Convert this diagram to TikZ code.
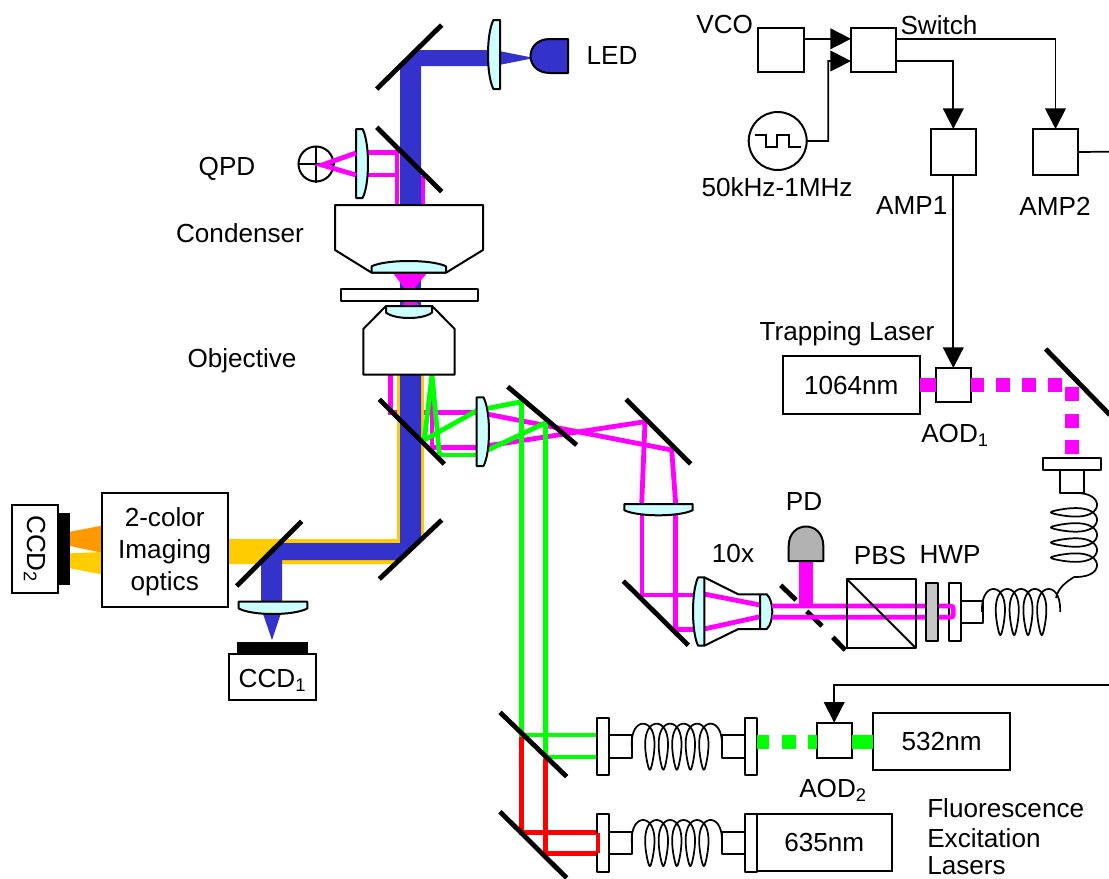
\documentclass[tikz,border=0pt]{standalone}
\usepackage{fontspec}
\setmainfont{Liberation Sans}
\usepackage{xcolor}
\usepackage{tikz}
\usetikzlibrary{arrows.meta,positioning,calc}
\definecolor{beamblue}{HTML}{3333CC}
\definecolor{beampink}{HTML}{FF00FF}
\definecolor{beamgreen}{HTML}{00FF00}
\definecolor{beamyellow}{HTML}{FFCC00}
\definecolor{beamorange}{HTML}{FF9900}
\definecolor{lensfill}{HTML}{CCFFFF}
\def\px{0.75pt}
% lens with its flat side at #1 and its bulge at #2, between #3 and #4
\newcommand{\lensv}[4]{\draw[optic, fill=lensfill] (#1,#3) -- ({#1+0.55*(#2-#1)},#3) .. controls ({#1+1.15*(#2-#1)},{#3+0.2*(#4-#3)}) and ({#1+1.15*(#2-#1)},{#3+0.8*(#4-#3)}) .. ({#1+0.55*(#2-#1)},#4) -- (#1,#4) -- cycle;}
\newcommand{\lensh}[4]{\draw[optic, fill=lensfill] (#3,#1) -- (#3,{#1+0.55*(#2-#1)}) .. controls ({#3+0.2*(#4-#3)},{#1+1.15*(#2-#1)}) and ({#3+0.8*(#4-#3)},{#1+1.15*(#2-#1)}) .. (#4,{#1+0.55*(#2-#1)}) -- (#4,#1) -- cycle;}
% fibre coils
\newcommand{\coilh}[4]{\pgfmathsetmacro\coilend{360*#4+90}\draw[fiber] plot[domain=-90:\coilend, samples=300] ({#1+8+#3*((\x+90)/360)+8*sin(\x)+1.5*sin(2*\x)},{#2-23*cos(\x)});}
\newcommand{\coilv}[4]{\pgfmathsetmacro\coilend{360*#4+90}\draw[fiber] plot[domain=-90:\coilend, samples=300] ({#2+23*cos(\x)},{#1+8+#3*((\x+90)/360)+8*sin(\x)+1.5*sin(2*\x)});}

\begin{document}
\begin{tikzpicture}[
    x=\px, y=-\px,
    box/.style={draw, fill=white, line width=1.5pt, inner sep=0pt, outer sep=0pt, align=center, font=\fontsize{19.6}{24}\selectfont},
    lab/.style={inner sep=0pt, align=center, font=\fontsize{19.6}{24}\selectfont},
    optic/.style={draw, line width=1.5pt, line join=round},
    mirror/.style={line width=3.6pt},
    thin beam/.style={line width=3.6pt, line join=miter},
    fiber/.style={line width=1.3pt, line join=round},
    wire/.style={line width=1.3pt},
    flow/.style={wire, -{Triangle[length=15.5pt, width=15.5pt]}}
]
\clip (0,0) rectangle (1109,878);

% pink beams, under everything else
\draw[thin beam, beampink] (356,152.7) -- (397,152.7) -- (397,205);
\draw[thin beam, beampink] (356,175) -- (397,175);
\draw[thin beam, beampink] (423,176) -- (423,205);
\draw[thin beam, beampink] (390.7,375) -- (390.7,412.7) -- (478,412.7);
\draw[thin beam, beampink] (432,375) -- (432,447.7) -- (478,447.7);
\draw[thin beam, beampink] (488,414.3) -- (671.7,450) -- (675.7,504);
\draw[thin beam, beampink] (488,445.7) -- (645,421.7) -- (641.7,504);
\draw[thin beam, beampink] (642,515) -- (642,595) -- (694,595);
\draw[thin beam, beampink] (675.7,515) -- (675.7,629.3) -- (694,629.3);
\fill[beamyellow] (397,375) -- (424,375) -- (424,536) -- (396,564) -- (228,564) -- (228,539) -- (397,539) -- cycle;
\fill[beamblue] (400,375) -- (421,375) -- (421,539) -- (400,560) -- (282,560) -- (282,602) -- (261,602) -- (261,562) -- (280,543) -- (400,543) -- cycle;
\fill[beamblue] (400,205) -- (400,66) -- (416,50) -- (490,50) -- (490,66) -- (421,66) -- (421,205) -- cycle;
\fill[beamblue] (499,51) -- (534,58) -- (499,65) -- cycle;
\fill[beamblue] (400,272) rectangle (421,307);
\fill[beampink] (393,273) -- (427,273) -- (414,289) -- (405,289) -- cycle;
\fill[beampink] (407,300) -- (414,300) -- (421,307) -- (400,307) -- cycle;
\fill[beamblue] (262.7,613) -- (281,613) -- (272,640) -- cycle;
\fill[beamorange] (70,531.7) -- (101.7,525.7) -- (101.7,552.7) -- (70,546) -- cycle;
\fill[beamyellow] (70,553.3) -- (101.7,552) -- (101.7,574.3) -- (70,568.3) -- cycle;

% green and red beams
\draw[thin beam, beamgreen] (424.3,440) -- (432,375) -- (439.3,454);
\draw[thin beam, beamgreen] (478,410) -- (424.3,440);
\draw[thin beam, beamgreen] (439.3,455) -- (478,455);
\draw[thin beam, beamgreen] (488,408.3) -- (521.7,401.7);
\draw[thin beam, beamgreen] (488,450) -- (545.7,422.7);
\draw[thin beam, red] (521.7,735) -- (521.7,832.7) -- (598,832.7) -- (598,853.3) -- (545.7,853.3) -- (545.7,757);
\draw[thin beam, beamgreen] (521.7,401.7) -- (521.7,735) -- (598,735);
\draw[thin beam, beamgreen] (545.7,422.7) -- (545.7,757) -- (598,757);

% mirrors
\draw[mirror] (376.7,89) -- (441.7,25);
\draw[mirror] (376.7,127.3) -- (441.7,191.7);
\draw[mirror] (379.3,399.3) -- (444.3,464);
\draw[mirror] (507.7,386.7) -- (576.7,445);
\draw[mirror] (626,399.3) -- (690.7,464);
\draw[mirror] (379.3,579) -- (441.7,520);
\draw[mirror] (236.7,586) -- (301.7,521.3);
\draw[mirror] (623.3,581) -- (688.3,645.3);
\draw[mirror] (500,712.3) -- (566.7,776.7);
\draw[mirror] (500,811.7) -- (566.7,878);
\draw[mirror] (1045.7,349) -- (1110,415);
\draw[mirror] (780.7,585.3) -- (796,600);
\draw[mirror] (806.7,611.3) -- (822,626);
\draw[mirror] (832.7,637.3) -- (845.3,650);

% condenser, slide, objective
\draw[optic, fill=white] (335,205) -- (483,205) -- (483,250) -- (446,272.7) -- (371.7,272.7) -- (335,250) -- cycle;
\draw[optic, fill=white] (363.3,374.7) -- (454.7,374.7) -- (454.7,329) -- (432,306) -- (386,306) -- (363.3,329) -- cycle;
\draw[optic, fill=white] (341,289.3) rectangle (477.7,301);
\lensh{272.7}{261}{371.7}{446}
\lensh{306}{318}{386}{432}

% lenses
\lensv{500}{488}{20}{89}
\lensv{356}{368}{129}{198}
\lensv{476.7}{489}{397.3}{466}
\lensh{504}{515.3}{624.3}{692.7}
\lensh{601.7}{614}{238.7}{307.3}

% LED, QPD, PD
\draw[optic, fill=beamblue] (568,39) -- (550,39) .. controls (524,39) and (524,73) .. (550,73) -- (568,73) -- cycle;
\node[draw, circle, fill=white, line width=1.5pt, minimum size=35*\px, inner sep=0pt] (qpd) at (316,164) {};
\draw[line width=1.5pt] (qpd.north) -- (qpd.south);
\draw[line width=1.5pt] (qpd.west) -- (qpd.east);
\draw[thin beam, beampink] (356,153) -- (322,165) -- (356,175);
\fill[beampink] (799.3,561) rectangle (812.7,606);
\draw[optic, fill=gray!60] (788.7,561) -- (788.7,546) .. controls (788.7,520) and (823.3,520) .. (823.3,546) -- (823.3,561) -- cycle;

% telescope
\draw[optic] (704.3,577.3) -- (738.3,594.3) -- (760,594.3);
\draw[optic] (704.3,645.7) -- (738.3,629) -- (760,629);
\draw[thin beam, beampink] (704,594) -- (760,605);
\draw[thin beam, beampink] (704,629) -- (760,616.7);
\lensv{704.3}{693}{577.3}{645.7}
\lensv{760}{772.3}{594.3}{629}

% coupler of the trapping fibre
\draw[optic, fill=white] (949,583.3) rectangle (960.7,640.7);
\draw[optic, fill=white] (960.7,600.7) rectangle (982.7,623.3);
\draw[thin beam, beampink, rounded corners=2pt] (772,606) -- (953.3,606) -- (953.3,617.3) -- (772,617.3);
\draw[optic, fill=gray!45] (926,583.3) rectangle (938.3,640.7);
\draw[optic] (846.7,579) rectangle (915.7,648);
\draw[optic] (846.7,579) -- (915.7,648);
\coilh{982}{612}{13.8}{4}
\coilv{493}{1074}{15.1}{4}
\draw[fiber] (1074,577) .. controls (1066,582) and (1058,588) .. (1056,598);
\draw[optic, fill=white] (1043.3,458.3) rectangle (1101,470);
\draw[optic, fill=white] (1060.3,470) rectangle (1083.7,492.7);

% fibres of the excitation lasers
\foreach \ya/\yb/\yc/\yd/\ye in {718.3/775/735/757.7/746.7, 814.3/871.7/831.7/854/843}{
    \draw[optic, fill=white] (597.3,\ya) rectangle (609.3,\yb);
    \draw[optic, fill=white] (609.3,\yc) rectangle (631.7,\yd);
    \draw[optic, fill=white] (721.7,\yc) rectangle (745,\yd);
    \draw[optic, fill=white] (745,\ya) rectangle (756.7,\yb);
    \coilh{631.7}{\ye}{13.5}{5}
}
\draw[thin beam, red] (598,832.7) -- (598,853.3);

% lasers and drivers
\node[box, minimum width=46*\px, minimum height=44*\px] (vco) at (781,50) {};
\node[box, minimum width=45*\px, minimum height=44*\px] (switch) at (873.5,50) {};
\node[box, minimum width=45*\px, minimum height=46*\px] (amp1) at (953.3,152) {};
\node[box, minimum width=45*\px, minimum height=46*\px] (amp2) at (1055.5,152) {};
\node[box, circle, minimum size=58*\px] (clock) at (777.7,141) {};
\node[box, minimum width=35*\px, minimum height=34*\px] (aod1) at (953.3,385) {};
\node[box, minimum width=136.7*\px, minimum height=58*\px] (trap) at (851.3,385) {1064nm};
\node[box, minimum width=35*\px, minimum height=35*\px] (aod2) at (834.2,740.2) {};
\node[box, minimum width=136.7*\px, minimum height=57.3*\px] (green) at (941.6,741.3) {532nm};
\node[box, minimum width=135*\px, minimum height=57*\px] (redlaser) at (824.3,842.5) {635nm};
\node[box, minimum width=126*\px, minimum height=114*\px] (imaging) at (164.7,549.7) {};
\node[box, minimum width=87.3*\px, minimum height=46*\px] (ccd1) at (272.4,677) {};
\node[box, rotate=-90, minimum width=87.7*\px, minimum height=46.6*\px] (ccd2) at (35,548.9) {CCD\textsubscript{2}};
\fill (237,642.3) rectangle (308,654);
\fill (58.3,513.3) rectangle (70,584.7);
\draw[wire] (755,135) -- (766,135) -- (766,146.7) -- (777.3,146.7) -- (777.3,135) -- (789,135) -- (789,146.7) -- (800.7,146.7);

\draw[thin beam, beampink, line width=10.5pt] (trap.east) -- (aod1.west);
\draw[thin beam, beampink, line width=10.5pt] (970.7,384.7) -- (984,384.7);
\foreach \xa in {996,1022,1048.3}{
    \fill[beampink] (\xa,377.7) rectangle ({\xa+14},391.7);
}
\foreach \ya in {386.7,414,440}{
    \fill[beampink] (1065,\ya) rectangle (1079,{\ya+14});
}
\fill[beamgreen] (aod2.east |- 0,735) rectangle (green.west |- 0,749);
\foreach \xa/\xb in {756.7/769,782/796,808/816.7}{
    \fill[beamgreen] (\xa,735) rectangle (\xb,749);
}

% connectors
\coordinate (rfin) at (1110,685);
\coordinate (rfout) at (1110,151.7);
\draw[flow] ([yshift=8.4pt]vco.east) -- ([yshift=8.4pt]switch.west);
\draw[flow] (clock.east) -| (828.3,61) -- ([yshift=-8.3pt]switch.west);
\draw[flow] ([yshift=-8.3pt]switch.east) -| (amp1.north);
\draw[flow] ([yshift=8.4pt]switch.east) -| (amp2.north);
\draw[flow] (amp1.south) -- (aod1.north);
\draw[wire] (amp2.east) -- (rfout);
\draw[flow] (rfin) -| (aod2.north);

% labels
\node[lab] (imaginglab) at (164.7,552) {2-color\\Imaging\\optics};
\node[lab] (ccd1lab) at (272.4,680) {CCD\textsubscript{1}};
\node[lab] (vcolab) at (724.7,25) {VCO};
\node[lab] (switchlab) at (939,25) {Switch};
\node[lab] (clocklab) at (777,187) {50kHz-1MHz};
\node[lab] (amp1lab) at (911.7,206) {AMP1};
\node[lab] (amp2lab) at (1055,206) {AMP2};
\node[lab] (traplab) at (847,334) {Trapping Laser};
\node[lab] (aod1lab) at (955,435) {AOD\textsubscript{1}};
\node[lab] (aod2lab) at (833,790) {AOD\textsubscript{2}};
\node[lab] (ledlab) at (612,56) {LED};
\node[lab] (qpdlab) at (227,169) {QPD};
\node[lab] (condlab) at (240,233) {Condenser};
\node[lab] (objlab) at (242,361) {Objective};
\node[lab] (telelab) at (733,553) {10x};
\node[lab] (pdlab) at (804,502) {PD};
\node[lab] (pbslab) at (880,555) {PBS};
\node[lab] (hwplab) at (950,555) {HWP};
\node[lab, anchor=west] (fluo1) at (927,808) {Fluorescence};
\node[lab, anchor=west] (fluo2) at (927,838) {Excitation};
\node[lab, anchor=west] (fluo3) at (927,866) {Lasers};
\end{tikzpicture}
\end{document}
